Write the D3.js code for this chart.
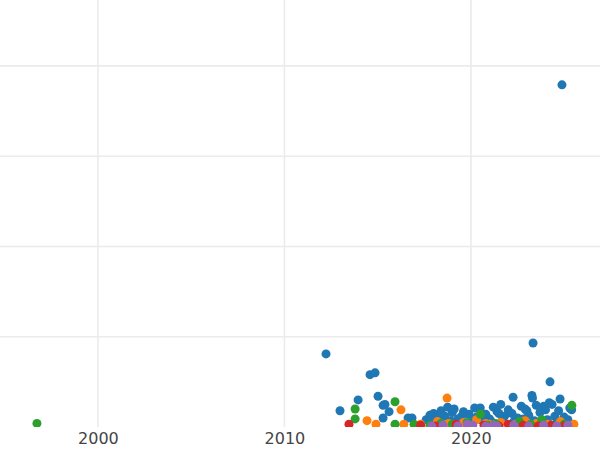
<!DOCTYPE html>
<html>
<head>
<meta charset="utf-8">
<script src="https://cdn.jsdelivr.net/npm/d3@7"></script>
<style>
  body { margin: 0; background: #fff; }
  text { font-family: "DejaVu Sans", sans-serif; }
</style>
</head>
<body>
<div id="chart"></div>
<script>
const W = 600, H = 450;
const PLOT = { left: 0, right: 600, top: 0, bottom: 427 };

const xTicks = [2000, 2010, 2020];
const yTicks = [0, 1, 2, 3, 4];

// series: year, value
const blueYear = [2012.23, 2012.98, 2013.95, 2014.59, 2014.86, 2015.02, 2015.29, 2015.39, 2015.61, 2015.29, 2016.63, 2016.84,
  2024.88, 2023.33, 2024.24, 2024.78, 2022.26, 2023.27, 2023.3, 2024.35, 2023.9, 2024.2, 2025.3, 2025.4,
  2017.6, 2017.8, 2018.0, 2018.2, 2018.4, 2018.6, 2018.75, 2019.0, 2019.3, 2019.6, 2019.9, 2020.2, 2020.3, 2020.5,
  2020.8, 2021.0, 2021.2, 2021.4, 2021.6, 2021.8, 2022.0, 2022.2, 2022.5, 2022.7, 2022.9, 2023.1, 2023.5, 2023.7,
  2024.0, 2024.5, 2024.7, 2025.0, 2025.2, 2018.1, 2018.9, 2019.5, 2020.0, 2020.6, 2021.1, 2021.7, 2022.3, 2022.8,
  2023.4, 2024.1, 2024.6, 2025.1, 2019.1, 2021.5, 2023.0, 2017.9];
const blueValue = [0.81, 0.18, 0.30, 0.58, 0.60, 0.34, 0.24, 0.25, 0.17, 0.10, 0.10, 0.10,
  3.79, 0.93, 0.50, 0.31, 0.33, 0.35, 0.32, 0.25, 0.23, 0.27, 0.21, 0.19,
  0.08, 0.13, 0.15, 0.10, 0.18, 0.12, 0.22, 0.16, 0.09, 0.17, 0.14, 0.21, 0.11, 0.21,
  0.14, 0.09, 0.22, 0.17, 0.25, 0.12, 0.19, 0.15, 0.10, 0.23, 0.20, 0.13, 0.24, 0.16,
  0.19, 0.12, 0.18, 0.11, 0.08, 0.05, 0.07, 0.12, 0.05, 0.07, 0.06, 0.08, 0.06, 0.09,
  0.07, 0.08, 0.05, 0.06, 0.20, 0.15, 0.18, 0.04];

const orangeYear = [2018.72, 2014.43, 2014.91, 2016.25, 2016.4, 2025.52, 2017.3, 2018.2, 2018.8, 2019.6, 2020.3, 2021.0,
  2021.6, 2022.4, 2022.9, 2023.5, 2024.1, 2024.8, 2019.2, 2020.8, 2023.0];
const orangeValue = [0.32, 0.07, 0.03, 0.19, 0.03, 0.03, 0.03, 0.06, 0.04, 0.05, 0.08, 0.03,
  0.05, 0.03, 0.07, 0.04, 0.03, 0.06, 0.02, 0.04, 0.02];

const greenYear = [1996.73, 2013.79, 2013.79, 2015.93, 2015.93, 2016.95, 2025.41, 2020.5, 2017.8, 2019.0, 2019.8,
  2021.3, 2022.2, 2022.6, 2023.2, 2023.8, 2024.4, 2025.0, 2018.4, 2020.9];
const greenValue = [0.04, 0.20, 0.09, 0.28, 0.03, 0.03, 0.24, 0.14, 0.02, 0.03, 0.05, 0.04, 0.02, 0.06, 0.03,
  0.08, 0.02, 0.03, 0.04, 0.02];

const redYear = [2013.46, 2017.3, 2018.1, 2019.2, 2020.0, 2020.7, 2021.5, 2022.0, 2022.8, 2023.6, 2024.3, 2025.0];
const redValue = [0.03, 0.02, 0.01, 0.03, 0.01, 0.02, 0.01, 0.03, 0.02, 0.01, 0.02, 0.01];

const purpleYear = [2017.9, 2018.5, 2019.3, 2019.8, 2020.1, 2020.8, 2021.2, 2021.4, 2022.3, 2023.1, 2023.9, 2024.6, 2025.2];
const purpleValue = [0.01, 0.02, 0.01, 0.03, 0.02, 0.01, 0.02, 0.01, 0.02, 0.01, 0.02, 0.01, 0.02];

const series = [
  { year: blueYear, value: blueValue, color: "#1f77b4" },
  { year: orangeYear, value: orangeValue, color: "#ff7f0e" },
  { year: greenYear, value: greenValue, color: "#2ca02c" },
  { year: redYear, value: redValue, color: "#d62728" },
  { year: purpleYear, value: purpleValue, color: "#9467bd" },
];

const x = d3.scaleLinear().domain([1994.75, 2026.92]).range([PLOT.left, PLOT.right]);
const y = d3.scaleLinear().domain([0, 4.73]).range([PLOT.bottom, PLOT.top]);

const svg = d3.select("#chart").append("svg").attr("width", W).attr("height", H);

svg.append("defs").append("clipPath").attr("id", "clip")
  .append("rect").attr("x", PLOT.left).attr("y", PLOT.top)
  .attr("width", PLOT.right - PLOT.left).attr("height", PLOT.bottom - PLOT.top);

const grid = svg.append("g").attr("stroke", "#ebebeb").attr("stroke-width", 1.6);
grid.selectAll(".hg").data(yTicks.slice(1)).enter().append("line")
  .attr("x1", PLOT.left).attr("x2", PLOT.right)
  .attr("y1", (d) => y(d)).attr("y2", (d) => y(d));
grid.selectAll(".vg").data(xTicks).enter().append("line")
  .attr("y1", PLOT.top).attr("y2", PLOT.bottom)
  .attr("x1", (d) => x(d)).attr("x2", (d) => x(d));

const xAxis = svg.append("g")
  .attr("transform", `translate(0,${PLOT.bottom})`)
  .call(d3.axisBottom(x).tickValues(xTicks).tickFormat(d3.format("d")).tickSize(0).tickPadding(6));
xAxis.select(".domain").remove();
xAxis.selectAll("text").attr("font-size", 16).attr("fill", "#444")
  .attr("font-family", "DejaVu Sans, sans-serif");

const marks = svg.append("g").attr("clip-path", "url(#clip)");
series.forEach((s) => {
  marks.append("g").selectAll("circle").data(s.year.map((yr, i) => [yr, s.value[i]]))
    .enter().append("circle")
    .attr("cx", (d) => x(d[0])).attr("cy", (d) => y(d[1]))
    .attr("r", 4.5).attr("fill", s.color);
});
</script>
</body>
</html>
